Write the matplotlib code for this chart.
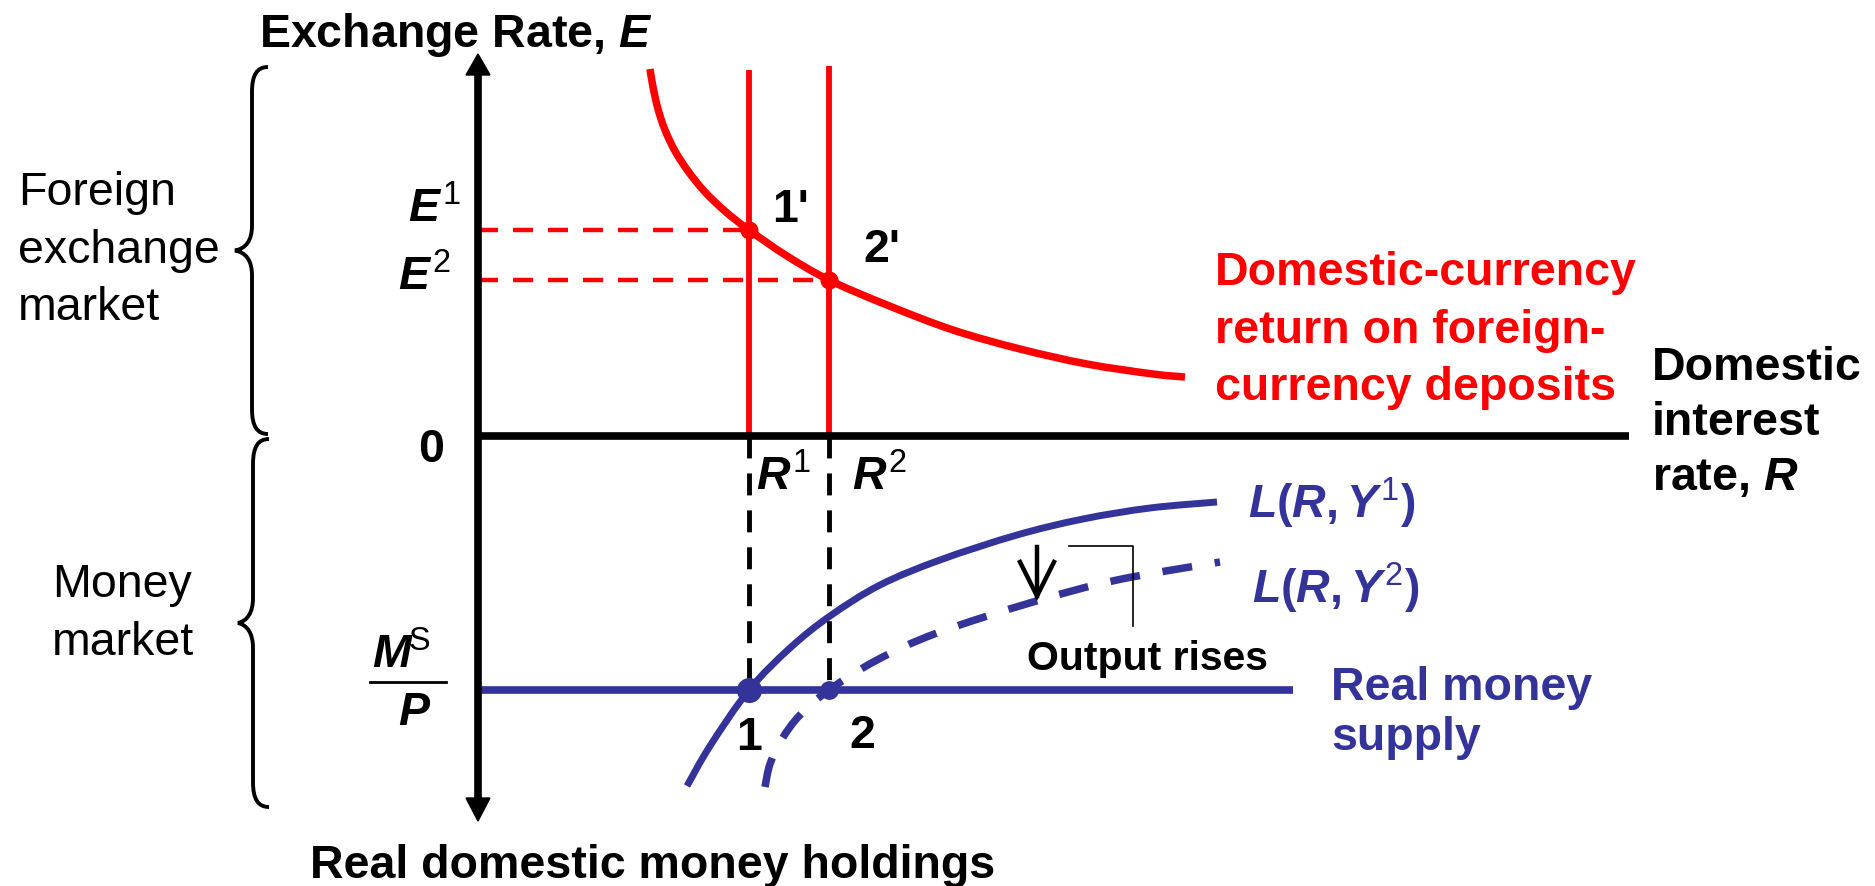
import matplotlib
matplotlib.use("Agg")
import matplotlib.pyplot as plt
from matplotlib.path import Path
from matplotlib.patches import PathPatch

plt.rcParams["font.family"] = ["Liberation Sans", "DejaVu Sans"]
plt.rcParams["mathtext.fontset"] = "custom"
plt.rcParams["mathtext.rm"] = "Liberation Sans:bold"
plt.rcParams["mathtext.it"] = "Liberation Sans:italic:bold"
plt.rcParams["mathtext.bf"] = "Liberation Sans:bold"
plt.rcParams["mathtext.sf"] = "Liberation Sans"
plt.rcParams["lines.scale_dashes"] = False

RED = "#FF0000"
BLUE = "#333399"
FS = 33.5

# ---------------------------------------------------------------------------
# Diagram data (origin = where the two axes cross)
# ---------------------------------------------------------------------------
# Domestic-currency return on foreign-currency deposits
fx_R = [1.72, 1.75, 1.80, 1.87, 1.97, 2.10, 2.27, 2.48, 2.71, 3.09, 3.51,
        4.09, 4.75, 5.42, 6.09, 6.75, 7.07]
fx_E = [3.67, 3.49, 3.27, 3.06, 2.85, 2.65, 2.44, 2.24, 2.06, 1.80, 1.56,
        1.31, 1.06, 0.87, 0.72, 0.62, 0.59]

# money demand L(R, Y1) and L(R, Y2)  (drawn downward from the R axis)
L1_R = [2.09, 2.32, 2.71, 3.12, 3.52, 4.02, 4.62, 5.39, 6.05, 6.72, 7.39]
L1_M = [-3.50, -3.10, -2.54, -2.12, -1.80, -1.49, -1.24, -0.99, -0.83, -0.72, -0.66]
L2_R = [2.87, 2.92, 3.04, 3.22, 3.51, 3.99, 4.59, 5.55, 6.39, 7.42]
L2_M = [-3.51, -3.28, -3.03, -2.79, -2.54, -2.24, -1.97, -1.66, -1.44, -1.26]

# equilibria 1 and 2
R_eq = [2.71, 3.51]
E_eq = [2.06, 1.56]
R_line_top = [3.66, 3.70]
MS_P = -2.54
MS_END = 8.15
R_AXIS_END = 11.51
E_AXIS_TOP = 3.82
M_AXIS_BOTTOM = -3.85


def smooth_path(xs, ys):
    """Catmull-Rom curve through the given points, as cubic Bezier pieces."""
    pts = list(zip(xs, ys))
    n = len(pts)
    verts = [pts[0]]
    codes = [Path.MOVETO]
    for i in range(n - 1):
        p0 = pts[i - 1] if i > 0 else pts[i]
        p1, p2 = pts[i], pts[i + 1]
        p3 = pts[i + 2] if i + 2 < n else pts[i + 1]
        c1 = (p1[0] + (p2[0] - p0[0]) / 6, p1[1] + (p2[1] - p0[1]) / 6)
        c2 = (p2[0] - (p3[0] - p1[0]) / 6, p2[1] - (p3[1] - p1[1]) / 6)
        verts += [c1, c2, p2]
        codes += [Path.CURVE4] * 3
    return Path(verts, codes)


def brace(ax, x0, x_end, x_tip, y_top, y_bot):
    ym = (y_top + y_bot) / 2
    verts = [
        (x_end, y_top),
        (x0 + 0.05, y_top), (x0, y_top - 0.08), (x0, y_top - 0.25),
        (x0, ym + 0.25),
        (x0, ym + 0.10), (x0 - 0.06, ym + 0.02), (x_tip, ym),
        (x0 - 0.06, ym - 0.02), (x0, ym - 0.10), (x0, ym - 0.25),
        (x0, y_bot + 0.25),
        (x0, y_bot + 0.08), (x0 + 0.05, y_bot), (x_end, y_bot),
    ]
    codes = ([Path.MOVETO] + [Path.CURVE4] * 3 + [Path.LINETO] + [Path.CURVE4] * 6
             + [Path.LINETO] + [Path.CURVE4] * 3)
    ax.add_patch(PathPatch(Path(verts, codes), fill=False, ec="black", lw=2.8))


fig = plt.figure(figsize=(18.75, 8.87), dpi=100)
ax = fig.add_axes([0, 0, 1, 1])
ax.set_xlim(-4.78, 13.97)
ax.set_ylim(-4.50, 4.37)
ax.axis("off")

# --- foreign exchange market (top) ---
for r, e in zip(R_eq, E_eq):
    ax.plot([0, r], [e, e], color=RED, lw=3.2, ls=(0, (14.4, 10.8)))
for r, top in zip(R_eq, R_line_top):
    ax.plot([r, r], [0, top], color=RED, lw=4.2, solid_capstyle="butt")
ax.add_patch(PathPatch(smooth_path(fx_R, fx_E), fill=False, ec=RED, lw=5.4,
                       capstyle="butt"))
ax.plot(R_eq, E_eq, "o", ms=12, color=RED)

# --- money market (bottom) ---
for r in R_eq:
    ax.plot([r, r], [0, MS_P], color="black", lw=3.5, ls=(0, (15.8, 10.8)))
ax.plot([0, MS_END], [MS_P, MS_P], color=BLUE, lw=5.5, solid_capstyle="butt")
ax.add_patch(PathPatch(smooth_path(L1_R, L1_M), fill=False, ec=BLUE, lw=5,
                       capstyle="butt"))
ax.add_patch(PathPatch(smooth_path(L2_R, L2_M), fill=False, ec=BLUE, lw=5.4,
                       capstyle="butt", ls=(0, (21.6, 16.5))))
ax.plot(R_eq[0], MS_P, "o", ms=17, color=BLUE)
ax.plot(R_eq[1], MS_P, "o", ms=12.5, color=BLUE)

# --- axes with arrowheads ---
ax.plot([0, R_AXIS_END], [0, 0], color="black", lw=5.5, solid_capstyle="butt")
ax.plot([0, 0], [E_AXIS_TOP - 0.2, M_AXIS_BOTTOM + 0.2], color="black", lw=5.5,
        solid_capstyle="butt")
ax.fill([-0.12, 0.12, 0], [E_AXIS_TOP - 0.21] * 2 + [E_AXIS_TOP], color="black")
ax.fill([-0.12, 0.12, 0], [M_AXIS_BOTTOM + 0.23] * 2 + [M_AXIS_BOTTOM], color="black")

# --- braces ---
brace(ax, -2.26, -2.10, -2.43, 3.69, 0.02)
brace(ax, -2.25, -2.09, -2.40, -0.03, -3.71)

# --- "Output rises" arrow and bracket ---
ax.plot([5.59, 5.59], [-1.11, -1.60], color="black", lw=3.2)
ax.plot([5.42, 5.59, 5.76], [-1.26, -1.60, -1.26], color="black", lw=3.2,
        solid_joinstyle="miter")
ax.plot([5.91, 6.55, 6.55], [-1.10, -1.10, -1.90], color="black", lw=1.2)

# --- text ---
bold = dict(fontsize=FS, fontweight="bold", va="baseline", ha="left")
ax.text(-2.19, 3.90, r"Exchange Rate, $E$", **bold)
ax.text(-1.68, -4.41, "Real domestic money holdings", **bold)
for txt, y in zip(["Foreign", "exchange", "market"], [2.32, 1.74, 1.17]):
    ax.text(-4.60, y, txt, fontsize=FS, va="baseline", ha="left")
for txt, y in zip(["Money", "market"], [-1.60, -2.18]):
    ax.text(-4.26, y, txt, fontsize=FS, va="baseline", ha="left")

ax.text(-0.70, 2.15, r"$E^{\mathsf{1}}$", **bold)
ax.text(-0.80, 1.47, r"$E^{\mathsf{2}}$", **bold)
ax.text(-0.47, -0.25, "0", fontsize=FS, fontweight="bold", va="baseline", ha="center")
ax.text(2.94, 2.15, "1'", **bold)
ax.text(3.85, 1.75, "2'", **bold)
ax.text(2.78, -0.53, r"$R^{\mathsf{1}}$", **bold)
ax.text(3.74, -0.53, r"$R^{\mathsf{2}}$", **bold)
ax.text(2.71, -3.13, "1", fontsize=FS, fontweight="bold", va="baseline", ha="center")
ax.text(3.84, -3.11, "2", fontsize=FS, fontweight="bold", va="baseline", ha="center")

for txt, y in zip(["Domestic-currency", "return on foreign-", "currency deposits"],
                  [1.52, 0.94, 0.37]):
    ax.text(7.37, y, txt, color=RED, **bold)
for txt, y in zip(["Domestic", "interest", r"rate, $R$"], [0.57, 0.02, -0.53]):
    ax.text(11.74, y, txt, **bold)

ax.text(7.70, -0.81, r"$L(R, Y^{\mathsf{1}})$", color=BLUE, **bold)
ax.text(7.74, -1.66, r"$L(R, Y^{\mathsf{2}})$", color=BLUE, **bold)
for txt, y in zip(["Real money", "supply"], [-2.63, -3.13]):
    ax.text(8.53, y, txt, color=BLUE, **bold)
ax.text(5.49, -2.33, "Output rises", fontsize=29.5, fontweight="bold",
        va="baseline", ha="left")

# M^S / P
ax.text(-1.06, -2.31, r"$M^{\!\mathsf{S}}$", **bold)
ax.plot([-1.08, -0.32], [-2.46, -2.46], color="black", lw=2)
ax.text(-0.80, -2.88, r"$P$", **bold)

fig.savefig("out.png", dpi=100)
